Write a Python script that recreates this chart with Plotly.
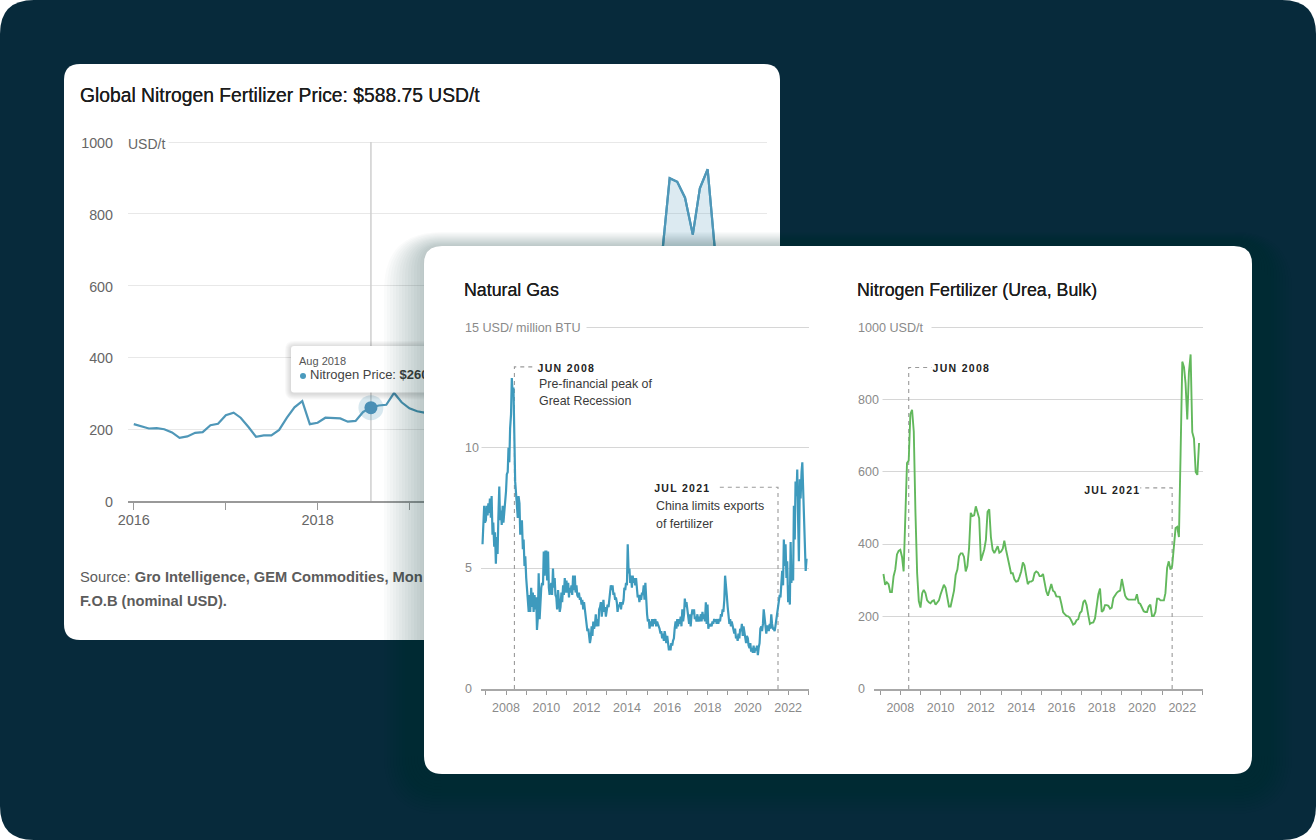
import pandas as pd
import plotly.graph_objects as go

W, H = 1316, 840

# ---------- data ----------
back_start = "2016-01-01"
back_price = [214,208,202,203,200,191,176,180,190,192,211,215,
              239,246,232,206,179,183,183,198,232,261,278,214,
              218,232,232,230,221,223,248,260,266,268,301,275,
              258,250,246,247,247,247,247,247,262,238,235,222,
              215,213,213,228,233,202,202,213,250,250,245,245,
              245,265,335,353,330,340,400,445,420,680,899,889,
              845,742,871,924,690,672,600,589]

gas_2006 = [6.0,6.9,7.6,6.9]
gas_2007 = [7.0,7.6,7.2,7.7,7.3,7.9,7.1,8.0,6.4,6.9,5.9,6.5,5.2,6.3,5.6,7.1,8.4,7.0,7.4,6.8,7.6,6.9,7.3,7.9]
gas_2008 = [8.2,8.9,9.0,10.0,9.4,10.8,11.4,12.9,12.2,12.5,9.6,8.6,8.1,7.5,7.1,8.0,7.7,6.4,6.9,7.0,5.8,6.2,5.1,5.5]
gas_2009 = [4.6,4.0,3.6,3.2,3.9,3.2,4.2,3.4,4.0,3.2,3.9,3.3,3.8,2.45,3.0,4.8,2.9,3.8,4.2,4.4,4.3,5.7,4.7,5.7]
gas_2010 = [5.7,4.5,5.7,4.2,3.9,4.2,4.4,3.9,5.0,4.2,4.6,3.9,3.8,3.3,4.1,3.7,3.2,3.4,4.0,3.6,4.3,3.9,4.6,4.0]
gas_2011 = [4.5,4.0,4.4,3.8,4.2,4.0,4.3,3.9,4.7,4.1,4.7,4.0,4.3,3.9,3.8,4.0,3.7,3.8,3.5,3.7,3.3,3.6,3.2,3.0]
gas_2012 = [2.7,2.4,2.5,2.3,1.9,2.1,2.6,2.2,2.8,2.5,2.7,3.1,2.6,2.9,2.6,3.3,3.4,3.6,3.0,3.3,3.7,3.2,3.4,3.0]
gas_2013 = [3.3,3.5,3.4,3.9,4.0,4.3,4.1,4.3,3.9,4.0,3.7,3.8,3.6,3.2,3.5,3.4,3.6,3.3,3.6,3.5,3.7,4.2,4.1,4.4]
gas_2014 = [4.3,6.0,4.8,5.0,4.4,4.7,4.2,4.7,4.4,4.6,4.3,4.6,4.1,3.8,3.9,3.6,3.9,3.7,4.0,3.9,4.3,3.7,4.4,3.6]
gas_2015 = [3.1,2.8,2.9,2.5,2.8,2.6,2.9,2.6,2.9,2.7,2.9,2.6,2.8,2.7,2.6,2.5,2.3,2.4,2.1,2.3,2.0,2.4,2.2,1.9]
gas_2016 = [2.2,1.9,1.6,1.8,1.6,1.9,1.8,2.0,2.1,2.5,2.8,2.5,2.9,2.6,2.9,2.7,3.0,2.6,3.3,2.8,3.1,3.75,3.4,3.6]
gas_2017 = [3.3,2.9,2.7,3.1,2.6,3.0,3.3,3.1,3.3,2.9,3.0,2.8,3.1,2.8,3.0,2.8,3.1,2.8,3.2,2.9,3.1,2.8,3.6,2.7]
gas_2018 = [3.5,2.5,2.7,2.6,2.7,2.6,2.8,2.7,2.9,2.8,2.9,2.7,2.9,2.7,2.9,2.8,3.1,3.0,3.3,3.2,3.7,4.7,4.4,3.9]
gas_2019 = [3.4,3.0,2.7,2.9,2.6,2.8,2.6,2.5,2.3,2.5,2.1,2.2,2.0,2.3,2.1,2.5,2.4,2.7,2.2,2.6,2.3,2.1,1.9,2.2]
gas_2020 = [2.1,1.8,1.7,1.9,1.55,1.7,1.5,1.8,1.5,1.7,1.6,1.8,1.4,1.7,1.9,2.5,2.6,2.4,2.7,3.3,2.8,2.7,2.3,2.6]
gas_2021 = [2.6,2.4,2.7,2.5,3.1,2.7,2.5,2.5,2.4,2.6,2.9,3.0,3.4,3.6,3.9,3.8,4.4,4.9,4.3,6.2,5.1,6.0,4.6,5.3]
gas_2022 = [3.6,4.3,3.5,6.1,4.4,4.9,4.5,7.6,6.2,8.6,8.0,9.1,7.0,5.3,8.7,7.9,9.0,9.4,8.2,6.9,6.2,4.9,5.4]
gas_by_year = {2007:gas_2007,2008:gas_2008,2009:gas_2009,2010:gas_2010,2011:gas_2011,2012:gas_2012,
               2013:gas_2013,2014:gas_2014,2015:gas_2015,2016:gas_2016,2017:gas_2017,2018:gas_2018,
               2019:gas_2019,2020:gas_2020,2021:gas_2021,2022:gas_2022}

urea_start = "2007-03-01"
urea_price = [318,288,295,290,268,268,312,330,372,382,
              385,365,325,450,625,632,760,772,712,490,320,243,
              225,265,274,265,245,240,237,243,245,233,238,245,
              262,275,288,280,250,228,228,252,272,315,330,367,
              375,375,365,325,340,390,487,478,480,505,490,472,
              355,370,385,412,490,497,420,385,376,385,395,377,
              380,388,410,385,360,345,320,320,303,297,298,310,
              325,350,342,315,290,297,297,300,320,325,322,312,
              312,318,295,270,258,278,290,272,268,256,255,255,
              235,212,207,202,201,197,188,178,181,190,193,210,
              215,240,246,232,205,180,183,184,195,235,262,278,
              213,218,232,232,230,222,225,252,260,266,270,272,
              304,275,258,250,247,247,247,247,247,262,238,235,
              222,215,213,213,228,233,202,202,213,250,250,245,
              245,245,265,335,353,330,340,400,445,448,420,650,
              905,890,845,745,875,925,710,692,600,592,680]

event_2008 = "2008-06-01"
event_2021 = "2021-07-01"
back_ticks = list(range(2016, 2024))
back_tick_labels = ["2016", "", "2018", "", "", "", "", ""]
front_ticks = list(range(2007, 2024))
front_tick_labels = [str(y) if y % 2 == 0 else "" for y in front_ticks]

# ---------- helpers ----------
BLUE_BACK, BLUE, GREEN = "#4f97b8", "#3e9abd", "#62b85c"
FONT = "Liberation Sans"

def dx(a, b): return [a / W, b / W]
def dy(top, bottom): return [1 - bottom / H, 1 - top / H]

def rr(x0, y0, x1, y1, r, fx=lambda v: v, fy=lambda v: v):
    X = lambda v: f"{fx(v):.5f}"
    Y = lambda v: f"{fy(v):.5f}"
    return (f"M{X(x0+r)},{Y(y0)} L{X(x1-r)},{Y(y0)} Q{X(x1)},{Y(y0)} {X(x1)},{Y(y0+r)} "
            f"L{X(x1)},{Y(y1-r)} Q{X(x1)},{Y(y1)} {X(x1-r)},{Y(y1)} "
            f"L{X(x0+r)},{Y(y1)} Q{X(x0)},{Y(y1)} {X(x0)},{Y(y1-r)} "
            f"L{X(x0)},{Y(y0+r)} Q{X(x0)},{Y(y0)} {X(x0+r)},{Y(y0)} Z")

px = lambda v: v / W
py = lambda v: 1 - v / H

back_dates = pd.date_range(back_start, periods=len(back_price), freq="MS")
urea_dates = pd.date_range(urea_start, periods=len(urea_price), freq="MS")
gas_dates = list(pd.date_range("2006-11-01", periods=len(gas_2006), freq="SMS"))
gas_values = list(gas_2006)
for y, vals in gas_by_year.items():
    gas_dates += list(pd.date_range(f"{y}-01-01", periods=len(vals), freq="SMS"))
    gas_values += vals

fig = go.Figure()

# ---------- subplot 1: back chart ----------
fig.add_trace(go.Scatter(x=back_dates, y=back_price, mode="lines", line=dict(color=BLUE_BACK, width=2.2),
                         xaxis="x", yaxis="y", hoverinfo="skip"))
i0, i1 = 69, 77
fig.add_trace(go.Scatter(x=back_dates[i0:i1], y=back_price[i0:i1], mode="lines", fill="tozeroy",
                         fillcolor="rgba(79,151,184,0.2)", line=dict(color=BLUE_BACK, width=2.2),
                         xaxis="x", yaxis="y", hoverinfo="skip"))
hi = 31
fig.add_trace(go.Scatter(x=[back_dates[hi]], y=[back_price[hi]], mode="markers",
                         marker=dict(size=25, color="rgba(79,151,184,0.22)"), xaxis="x", yaxis="y", hoverinfo="skip"))
fig.add_trace(go.Scatter(x=[back_dates[hi]], y=[back_price[hi]], mode="markers",
                         marker=dict(size=13, color="#4a8fb5"), xaxis="x", yaxis="y", hoverinfo="skip"))

# ---------- subplot 2: overlay text of the back card ----------
def ov_text(x, y, s, size, color):
    fig.add_trace(go.Scatter(x=[x], y=[y], mode="text", text=[s], textposition="middle right",
                             textfont=dict(family=FONT, size=size, color=color),
                             xaxis="x2", yaxis="y2", hoverinfo="skip"))

ov_text(299, 362, "Aug 2018", 11, "#555555")
fig.add_trace(go.Scatter(x=[303], y=[376], mode="markers", marker=dict(size=6, color="#4a9abd"),
                         xaxis="x2", yaxis="y2", hoverinfo="skip"))
ov_text(310, 376, "Nitrogen Price: <b>$260</b>", 13, "#444444")
ov_text(80, 578, "Source: <b>Gro Intelligence, GEM Commodities, Mon</b>", 14.7, "#5c5c5c")
ov_text(80, 602, "<b>F.O.B (nominal USD).</b>", 14.7, "#5c5c5c")

# ---------- subplot 3: front card (covers the back chart) ----------
fig.add_trace(go.Scatter(x=[800], y=[500], mode="markers", marker=dict(size=1, color="#ffffff"),
                         xaxis="x3", yaxis="y3", hoverinfo="skip"))

# ---------- subplot 4: natural gas ----------
def dashed(xa, ya, x_end, y_top, x_elbow):
    fig.add_trace(go.Scatter(x=[x_elbow, x_elbow, x_end], y=[0, y_top, y_top], mode="lines",
                             line=dict(color="#9a9a9a", width=1.1, dash="4px,4px"),
                             xaxis=xa, yaxis=ya, hoverinfo="skip"))

dashed("x4", "y4", "2009-05-20", 13.36, event_2008)
dashed("x4", "y4", "2018-06-15", 8.37, event_2021)
fig.add_trace(go.Scatter(x=gas_dates, y=gas_values, mode="lines", line=dict(color=BLUE, width=2.2),
                         xaxis="x4", yaxis="y4", hoverinfo="skip"))

# ---------- subplot 5: urea ----------
dashed("x5", "y5", "2009-07-20", 889, event_2008)
dashed("x5", "y5", "2019-12-01", 556, event_2021)
fig.add_trace(go.Scatter(x=urea_dates, y=urea_price, mode="lines", line=dict(color=GREEN, width=1.9),
                         xaxis="x5", yaxis="y5", hoverinfo="skip"))

# ---------- shapes ----------
shapes = [
    dict(type="path", xref="paper", yref="paper", layer="below", line_width=0, fillcolor="#072a3b",
         path=rr(0, 0, W, H, 34, px, py)),
    dict(type="path", xref="paper", yref="paper", layer="below", line_width=0, fillcolor="#ffffff",
         path=rr(64, 64, 780, 640, 16, px, py)),
    dict(type="line", xref="x", yref="y", layer="between", x0=back_dates[hi], x1=back_dates[hi], y0=0, y1=1000,
         line=dict(color="#cfcfcf", width=1.5)),
]
# tooltip
for k in range(6, 0, -1):
    shapes.append(dict(type="path", xref="x2", yref="y2", layer="below", line_width=0,
                       fillcolor="rgba(0,0,0,0.022)", path=rr(291-k, 346-k+1, 470+k, 392.5+k+1, 3+k)))
shapes.append(dict(type="path", xref="x2", yref="y2", layer="below", line_width=0, fillcolor="#ffffff",
                   path=rr(291, 346, 470, 392.5, 3)))
# front-card shadow and card
for k in range(40, 0, -3):
    shapes.append(dict(type="path", xref="x3", yref="y3", layer="below", line_width=0,
                       fillcolor="rgba(7,42,59,0.02)", path=rr(424-k, 246-0.35*k, 1252+k, 774+k, 18+k)))
shapes.append(dict(type="path", xref="x3", yref="y3", layer="below", line_width=0, fillcolor="#ffffff",
                   path=rr(424, 246, 1252, 774, 18)))

# ---------- annotations ----------
ann = []
def note(x, y, s, size, color, bg=None, pad=0, yref="paper", heavy=False):
    f = dict(family=FONT, size=size, color=color)
    if heavy:
        f["shadow"] = f"0 0 0.6px {color}"
    ann.append(dict(x=px(x - pad), y=(py(y) if yref == "paper" else y), xref="paper", yref=yref, text=s,
                    showarrow=False, xanchor="left", yanchor="middle", borderpad=pad,
                    bgcolor=bg if bg else "rgba(0,0,0,0)", font=f))

TITLE = "#1d1d1d"
note(79, 95, "Global Nitrogen Fertilizer Price: $588.75 USD/t", 19.3, TITLE, heavy=True)
note(127, 144, "USD/t", 14, "#666666", bg="#ffffff", pad=3)
note(463, 290, "Natural Gas", 17.8, TITLE, heavy=True)
note(856, 290, "Nitrogen Fertilizer (Urea, Bulk)", 17.8, TITLE, heavy=True)

GR = "#8a8a8a"
note(464, 328, "15 USD/ million BTU", 12.6, GR, bg="#ffffff", pad=6)
for v in (10, 5, 0):
    note(464, v, str(v), 12.5, GR, bg="#ffffff", pad=2, yref="y4")
note(857, 328, "1000 USD/t", 12.6, GR, bg="#ffffff", pad=7)
for v in (800, 600, 400, 200, 0):
    note(857, v, str(v), 12.5, GR, bg="#ffffff", pad=3, yref="y5")

EV = "#222222"
BODY = "#3a3a3a"
note(542, 367.5, "JUN 2008", 10.5, EV)
note(538, 384, "Pre-financial peak of", 12.4, BODY)
note(538, 401, "Great Recession", 12.4, BODY)
note(659, 487.5, "JUL 2021", 10.5, EV)
note(655, 506, "China limits exports", 12.4, BODY)
note(655, 523.5, "of fertilizer", 12.4, BODY)
note(937, 367.5, "JUN 2008", 10.5, EV)
note(1089, 489.5, "JUL 2021", 10.5, EV)

# ---------- axes ----------
hidden = dict(visible=False, fixedrange=True, automargin=False)
def time_axis(domain, rng, ticks, labels, size, color, ticklen, standoff, linecolor, linewidth, anchor):
    return dict(domain=domain, range=rng, type="date", anchor=anchor, automargin=False,
                tickmode="array", tickvals=[f"{y}-01-01" for y in ticks], ticktext=labels,
                ticks="outside", ticklen=ticklen, tickwidth=1, tickcolor="#999999",
                tickfont=dict(family=FONT, size=size, color=color), ticklabelstandoff=standoff,
                showgrid=False, showline=True, linecolor=linecolor, linewidth=linewidth, zeroline=False)

fig.update_layout(
    width=W, height=H, margin=dict(l=0, r=0, t=0, b=0), autosize=False,
    paper_bgcolor="#ffffff", plot_bgcolor="rgba(0,0,0,0)", showlegend=False,
    hovermode=False, shapes=shapes, annotations=ann,
    xaxis=time_axis(dx(128, 767), ["2015-12-09", "2022-11-23"], back_ticks, back_tick_labels, 14.5, "#666666", 7, -2, "#999999", 2, "y"),
    yaxis=dict(domain=dy(139.85, 501), range=[0, 1006], anchor="x", tickvals=[0, 200, 400, 600, 800, 1000],
               showgrid=True, gridcolor="#e8e8e8", gridwidth=1, zeroline=False, showline=False, automargin=False,
               tickfont=dict(family=FONT, size=14.3, color="#666666"), ticklabelstandoff=14, ticklabelshift=1),
    xaxis2=dict(domain=dx(64, 780), range=[64, 780], anchor="y2", **hidden),
    yaxis2=dict(domain=dy(64, 640), range=[640, 64], anchor="x2", **hidden),
    xaxis3=dict(domain=dx(376, 1300), range=[376, 1300], anchor="y3", **hidden),
    yaxis3=dict(domain=dy(200, 836), range=[836, 200], anchor="x3", **hidden),
    xaxis4=time_axis(dx(480.7, 809), ["2006-09-29", "2023-01-14"], front_ticks, front_tick_labels, 12.5, GR, 4, 2, "#a8a8a8", 2, "y4"),
    yaxis4=dict(domain=dy(324.9, 689), range=[0, 15.1], anchor="x4", tickvals=[5, 10, 15], showticklabels=False,
                automargin=False, showgrid=True, gridcolor="#d6d6d6", gridwidth=1.2, zeroline=False, showline=False),
    xaxis5=time_axis(dx(874.3, 1203.3), ["2006-09-16", "2023-01-17"], front_ticks, front_tick_labels, 12.5, GR, 4, 2, "#a8a8a8", 2, "y5"),
    yaxis5=dict(domain=dy(325.13, 689), range=[0, 1006], anchor="x5", tickvals=[200, 400, 600, 800, 1000],
                automargin=False, showticklabels=False, showgrid=True, gridcolor="#d6d6d6", gridwidth=1.2,
                zeroline=False, showline=False),
)

post = """
document.body.style.margin = '0';
document.querySelectorAll('.annotation-text').forEach(function (t) {
  if (t.textContent === 'JUN 2008' || t.textContent === 'JUL 2021') {
    t.style.letterSpacing = '1.3px'; t.style.fontWeight = '600';
  }
});
"""
fig.write_html("out.html", config={"displayModeBar": False}, post_script=post)
